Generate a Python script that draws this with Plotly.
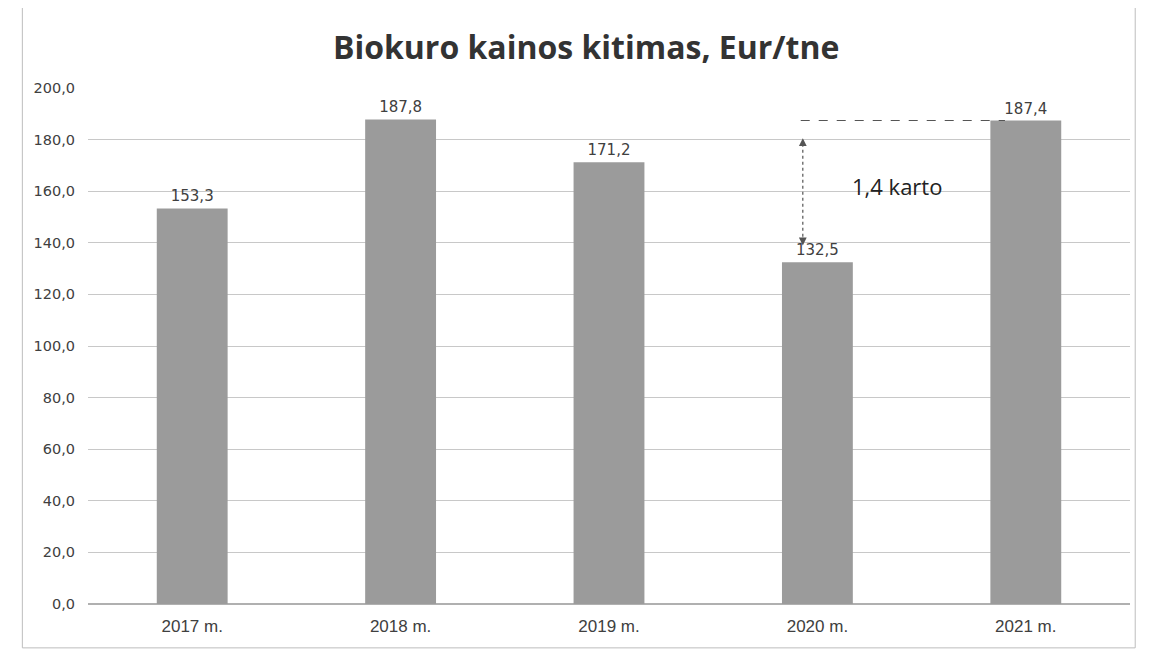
import plotly.graph_objects as go

categories = ["2017 m.", "2018 m.", "2019 m.", "2020 m.", "2021 m."]
prices = [153.3, 187.8, 171.2, 132.5, 187.4]
tick_vals = [0, 20, 40, 60, 80, 100, 120, 140, 160, 180, 200]
title_text = "Biokuro kainos kitimas, Eur/tne"
note_text = "1,4 karto"

labels = [f"{v:.1f}".replace(".", ",") for v in prices]

FONT = "Open Sans, Liberation Sans, sans-serif"
WIDE = "DejaVu Sans, Verdana, sans-serif"

fig = go.Figure()
fig.add_trace(go.Bar(
    x=categories, y=prices,
    marker=dict(color="#9b9b9b", line=dict(width=0)),
    text=labels, textposition="outside",
    textfont=dict(family=WIDE, size=15, color="#404040"),
    cliponaxis=False,
))

fig.update_layout(
    width=1154, height=657,
    paper_bgcolor="white", plot_bgcolor="white",
    margin=dict(l=80, r=32, t=80, b=61, autoexpand=False),
    separators=", ",
    showlegend=False,
    bargap=0.66,
    title=dict(text=f"<b>{title_text}</b>", x=0.501, xanchor="center", y=0.939, yanchor="middle",
               font=dict(family=FONT, size=32, color="#333333")),
    font=dict(family=FONT, color="#404040"),
)
fig.update_xaxes(showgrid=False, showline=False, ticks="", automargin=False, ticklabelstandoff=10,
                 tickfont=dict(family="Liberation Sans Narrow, Liberation Sans, sans-serif", size=17, color="#404040"))
fig.update_yaxes(range=[0, 200], tickvals=tick_vals, tickformat=".1f", showgrid=True, automargin=False,
                 gridcolor="#c8c8c8", gridwidth=1, zeroline=True, zerolinecolor="#b0b0b0",
                 tickfont=dict(family=WIDE, size=14.5, color="#404040"), ticks="", ticklabelstandoff=12)

# dashed reference line at 2021 level
fig.add_shape(type="line", xref="x", yref="y", x0=2.92, x1=3.9, y0=prices[4], y1=prices[4],
              line=dict(color="#555555", width=1, dash="dash"))
# dotted double-headed arrow showing the difference
fig.add_shape(type="line", xref="x", yref="y", x0=2.93, x1=2.93, y0=140, y1=179,
              line=dict(color="#555555", width=1.2, dash="dot"))
fig.add_annotation(xref="x", yref="y", axref="x", ayref="y", x=2.93, y=180.5, ax=2.93, ay=177,
                   text="", showarrow=True, arrowhead=2, arrowwidth=1.2, arrowsize=1.3, arrowcolor="#555555")
fig.add_annotation(xref="x", yref="y", axref="x", ayref="y", x=2.93, y=139, ax=2.93, ay=142.5,
                   text="", showarrow=True, arrowhead=2, arrowwidth=1.2, arrowsize=1.3, arrowcolor="#555555")
fig.add_annotation(xref="x", yref="y", x=3.38, y=162, text=note_text, showarrow=False,
                   font=dict(family=FONT, size=22, color="#222222"))

# chart border
fig.add_shape(type="rect", xref="paper", yref="paper", x0=-0.063, x1=1.005, y0=-0.085, y1=1.161,
              line=dict(color="#bdbdbd", width=1), fillcolor="rgba(0,0,0,0)")

fig.write_html("out.html")
